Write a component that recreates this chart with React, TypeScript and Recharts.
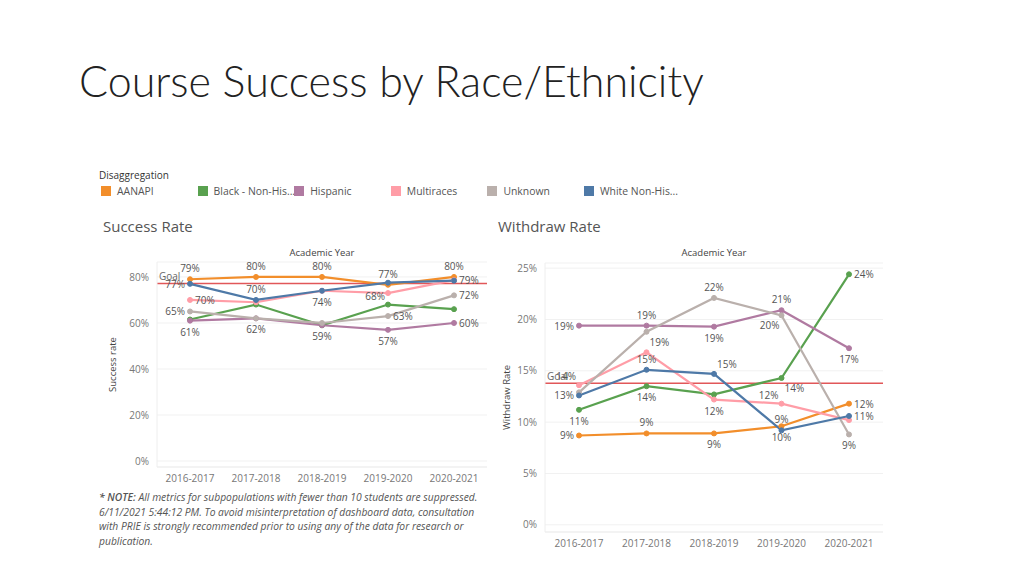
import React from "react";
import { LineChart, Line, XAxis, YAxis, CartesianGrid, ReferenceLine } from "recharts";

const years = ["2016-2017", "2017-2018", "2018-2019", "2019-2020", "2020-2021"];

// Success rate (%)
const successAanapi = [79, 80, 80, 76.6, 80];
const successBlack = [61.5, 68, 59, 68, 66];
const successHispanic = [61, 62, 59, 57, 60];
const successMulti = [70, 69, 74, 73, 78.6];
const successUnknown = [65, 62, 60, 63, 72];
const successWhite = [77, 70, 74, 77.5, 78.4];
const successGoal = 77.2;

// Withdraw rate (%)
const withdrawAanapi = [8.7, 8.9, 8.9, 9.6, 11.8];
const withdrawBlack = [11.2, 13.5, 12.7, 14.3, 24.4];
const withdrawHispanic = [19.4, 19.4, 19.3, 20.9, 17.2];
const withdrawMulti = [13.6, 16.8, 12.2, 11.8, 10.2];
const withdrawUnknown = [12.9, 18.8, 22.1, 20.4, 8.8];
const withdrawWhite = [12.6, 15.1, 14.7, 9.2, 10.6];
const withdrawGoal = 13.8;

const groups = ["AANAPI", "Black - Non-His...", "Hispanic", "Multiraces", "Unknown", "White Non-His..."];
const keys = ["aanapi", "black", "hispanic", "multi", "unknown", "white"];
const colors = ["#F28E2B", "#59A14F", "#B07AA1", "#FF9DA7", "#BAB0AC", "#4E79A7"];

// where Tableau put each mark label ("" = hidden)
const successLabelPos: Record<string, string[]> = {
  aanapi: ["a", "a", "a", "a", "a"],
  black: ["", "", "", "al", ""],
  hispanic: ["b", "b", "b", "b", "r"],
  multi: ["r", "", "b", "", "r"],
  unknown: ["l", "", "", "r", "r"],
  white: ["l", "a", "", "", ""],
};
const withdrawLabelPos: Record<string, string[]> = {
  aanapi: ["l", "a", "b", "b", "r"],
  black: ["b", "b", "", "br", "r"],
  hispanic: ["l", "a", "b", "a", "b"],
  multi: ["al", "", "b", "al", ""],
  unknown: ["", "br", "a", "bl", "b"],
  white: ["l", "a", "ar", "a", "r"],
};

const successSeries = [successAanapi, successBlack, successHispanic, successMulti, successUnknown, successWhite];
const withdrawSeries = [withdrawAanapi, withdrawBlack, withdrawHispanic, withdrawMulti, withdrawUnknown, withdrawWhite];

const successData = years.map((y, i) => {
  const row: Record<string, any> = { year: y };
  keys.forEach((k, j) => (row[k] = successSeries[j][i]));
  return row;
});
const withdrawData = years.map((y, i) => {
  const row: Record<string, any> = { year: y };
  keys.forEach((k, j) => (row[k] = withdrawSeries[j][i]));
  return row;
});

const FONT = "'Open Sans', 'Noto Sans', sans-serif";

const OFF: Record<string, [number, number, string]> = {
  a: [0, -7, "middle"],
  b: [0, 15, "middle"],
  l: [-5, 4, "end"],
  r: [5, 4, "start"],
  al: [-3, -5, "end"],
  ar: [3, -6, "start"],
  bl: [-2, 14, "end"],
  br: [3, 14, "start"],
};

function makeLabel(pos: string[]) {
  return (props: any) => {
    const { x, y, value, index } = props;
    const p = pos[index];
    if (!p || x == null) return null;
    const [dx, dy, anchor] = OFF[p];
    return (
      <text
        key={`l-${index}`}
        x={x + dx}
        y={y + dy}
        textAnchor={anchor as any}
        fontSize={10}
        fontFamily={FONT}
        fill="#555"
      >
        {Math.round(value)}%
      </text>
    );
  };
}

const GoalLabel = (props: any) => {
  const { viewBox } = props;
  return (
    <text x={viewBox.x + 2} y={viewBox.y - 3} fontSize={10} fontFamily={FONT} fill="#666">
      Goal
    </text>
  );
};

const tickStyle = { fontSize: 10, fill: "#777", fontFamily: FONT };

export default function App() {
  return (
    <div style={{ position: "absolute", left: 0, top: 0, width: 1024, height: 576, background: "#fff", fontFamily: FONT }}>
      <div
        style={{
          position: "absolute",
          left: 79,
          top: 55,
          fontFamily: "Lato, sans-serif",
          fontSize: 43,
          fontWeight: 300,
          color: "#222",
          whiteSpace: "nowrap",
        }}
      >
        Course Success by Race/Ethnicity
      </div>

      {/* legend */}
      <div style={{ position: "absolute", left: 99, top: 168, fontSize: 10, color: "#333" }}>Disaggregation</div>
      {groups.map((g, i) => (
        <div key={g} style={{ position: "absolute", left: 101 + i * 96.6, top: 184, display: "flex", alignItems: "center" }}>
          <div style={{ width: 10, height: 10, background: colors[i], marginRight: 6 }} />
          <span style={{ fontSize: 10.4, color: "#555", whiteSpace: "nowrap" }}>{g}</span>
        </div>
      ))}

      <div style={{ position: "absolute", left: 103, top: 216, fontSize: 15, color: "#555" }}>Success Rate</div>
      <div style={{ position: "absolute", left: 498, top: 216, fontSize: 15, color: "#555" }}>Withdraw Rate</div>
      <div style={{ position: "absolute", left: 157, width: 330, top: 246, textAlign: "center", fontSize: 9.5, color: "#444" }}>
        Academic Year
      </div>
      <div style={{ position: "absolute", left: 545, width: 338, top: 246, textAlign: "center", fontSize: 9.5, color: "#444" }}>
        Academic Year
      </div>

      {/* Success rate */}
      <div style={{ position: "absolute", left: 100, top: 245 }}>
        <LineChart width={400} height={250} data={successData} margin={{ top: 17, right: 13, bottom: 0, left: 0 }}>
          <CartesianGrid vertical={false} stroke="#f1f1f1" />
          <XAxis
            dataKey="year"
            padding={{ left: 33, right: 33 }}
            tickLine={false}
            axisLine={{ stroke: "#eee" }}
            tick={tickStyle}
            height={28}
            interval={0}
          />
          <YAxis
            width={57}
            domain={[-2.6, 86.5]}
            ticks={[0, 20, 40, 60, 80]}
            tickFormatter={(v) => `${v}%`}
            tickLine={false}
            axisLine={{ stroke: "#eee" }}
            tick={tickStyle}
            label={{ value: "Success rate", angle: -90, position: "insideLeft", offset: 13, style: { fontSize: 9.5, fill: "#444", textAnchor: "middle", fontFamily: FONT } }}
          />
          <ReferenceLine y={successGoal} stroke="#E15759" strokeWidth={1.5} label={<GoalLabel />} />
          {keys.map((k, i) => (
            <Line
              key={k}
              dataKey={k}
              stroke={colors[i]}
              strokeWidth={2.2}
              dot={{ r: 2.5, fill: colors[i], stroke: colors[i], strokeWidth: 1 }}
              label={makeLabel(successLabelPos[k])}
              isAnimationActive={false}
            />
          ))}
        </LineChart>
      </div>

      {/* Withdraw rate */}
      <div style={{ position: "absolute", left: 495, top: 245 }}>
        <LineChart width={400} height={315} data={withdrawData} margin={{ top: 18, right: 12, bottom: 0, left: 0 }}>
          <CartesianGrid vertical={false} stroke="#f1f1f1" />
          <XAxis
            dataKey="year"
            padding={{ left: 34, right: 34 }}
            tickLine={false}
            axisLine={{ stroke: "#eee" }}
            tick={tickStyle}
            height={28}
            interval={0}
          />
          <YAxis
            width={50}
            domain={[-0.7, 25.5]}
            ticks={[0, 5, 10, 15, 20, 25]}
            tickFormatter={(v) => `${v}%`}
            tickLine={false}
            axisLine={{ stroke: "#eee" }}
            tick={tickStyle}
            label={{ value: "Withdraw Rate", angle: -90, position: "insideLeft", offset: 12, style: { fontSize: 9.5, fill: "#444", textAnchor: "middle", fontFamily: FONT } }}
          />
          <ReferenceLine y={withdrawGoal} stroke="#E15759" strokeWidth={1.5} label={<GoalLabel />} />
          {keys.map((k, i) => (
            <Line
              key={k}
              dataKey={k}
              stroke={colors[i]}
              strokeWidth={2.2}
              dot={{ r: 2.5, fill: colors[i], stroke: colors[i], strokeWidth: 1 }}
              label={makeLabel(withdrawLabelPos[k])}
              isAnimationActive={false}
            />
          ))}
        </LineChart>
      </div>

      <div
        style={{
          position: "absolute",
          left: 99,
          top: 490,
          width: 385,
          fontSize: 10.3,
          lineHeight: "14.6px",
          fontStyle: "italic",
          color: "#555",
        }}
      >
        <span style={{ fontWeight: 600 }}>* NOTE:</span> All metrics for subpopulations with fewer than 10 students are
        suppressed. 6/11/2021 5:44:12 PM. To avoid misinterpretation of dashboard data, consultation with PRIE is strongly
        recommended prior to using any of the data for research or publication.
      </div>
    </div>
  );
}
